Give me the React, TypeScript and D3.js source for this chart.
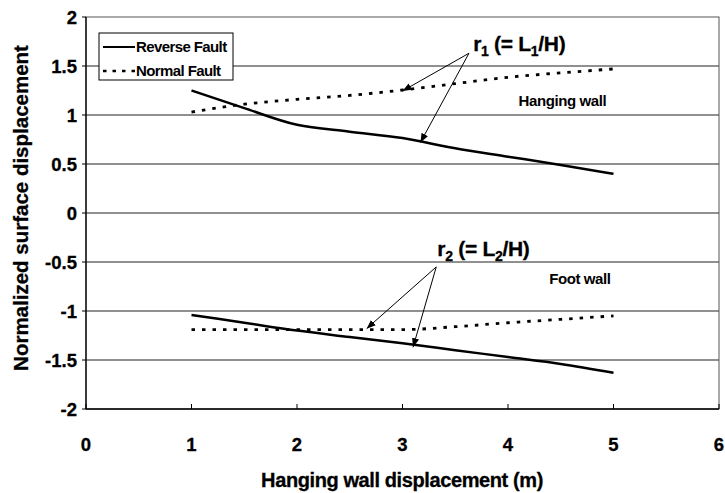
import React from "react";
import * as d3 from "d3";

const xValues = [1, 1.5, 2, 2.5, 3, 3.5, 4, 4.5, 5];
const reverseHanging = [1.25, 1.07, 0.9, 0.83, 0.765, 0.66, 0.575, 0.49, 0.4];
const normalHanging = [1.03, 1.11, 1.16, 1.2, 1.255, 1.32, 1.385, 1.43, 1.47];
const reverseFoot = [-1.04, -1.12, -1.2, -1.265, -1.33, -1.4, -1.47, -1.54, -1.63];
const normalFoot = [-1.19, -1.19, -1.19, -1.19, -1.19, -1.16, -1.12, -1.085, -1.05];

const xTicks = [0, 1, 2, 3, 4, 5, 6];
const yTicks = [2, 1.5, 1, 0.5, 0, -0.5, -1, -1.5, -2];

const legendLabels = ["Reverse Fault", "Normal Fault"];

// annotation anchors in data coordinates
const r1Origin = [3.63, 1.63];
const r1Tips = [[3.0, 1.245], [3.17, 0.72]];
const r2Origin = [3.32, -0.55];
const r2Tips = [[2.66, -1.18], [3.1, -1.37]];

const W = 725, H = 493;
const M = { left: 86, right: 6, top: 17, bottom: 84 };
const FONT = "'Liberation Sans', Arial, sans-serif";

export default function App() {
  const x = d3.scaleLinear().domain([0, 6]).range([M.left, W - M.right]);
  const y = d3.scaleLinear().domain([-2, 2]).range([H - M.bottom, M.top]);
  const line = d3
    .line<number>()
    .x((_, i) => x(xValues[i]))
    .y((d) => y(d))
    .curve(d3.curveMonotoneX);

  const x0 = x(0), x1 = x(6), yT = y(2), yB = y(-2);

  const arrow = (o: number[], t: number[], k: string) => (
    <line key={k} x1={x(o[0])} y1={y(o[1])} x2={x(t[0])} y2={y(t[1])}
      stroke="#000" strokeWidth={1} markerEnd="url(#ah)" />
  );

  return (
    <svg width={W} height={H} style={{ position: "absolute", left: 0, top: 0, background: "#fff" }}
      fontFamily={FONT}>
      <defs>
        <marker id="ah" viewBox="0 0 10 10" refX="10" refY="5" markerWidth="9" markerHeight="9"
          markerUnits="userSpaceOnUse" orient="auto">
          <path d="M0,1 L10,5 L0,9 z" fill="#000" />
        </marker>
      </defs>
      <rect x={0} y={0} width={W} height={H} fill="#fff" />
      {/* gridlines */}
      {yTicks.filter((v) => v !== 2 && v !== -2).map((v) => (
        <line key={"g" + v} x1={x0} x2={x1} y1={y(v)} y2={y(v)} stroke="#222" strokeWidth={1.2} />
      ))}
      {/* plot border */}
      <rect x={x0} y={yT} width={x1 - x0} height={yB - yT} fill="none" stroke="#555" strokeWidth={1} />
      <line x1={x0} x2={x0} y1={yT} y2={yB} stroke="#000" strokeWidth={1.3} />
      <line x1={x0} x2={x1} y1={yB} y2={yB} stroke="#000" strokeWidth={1.3} />
      {/* y ticks */}
      {yTicks.map((v) => (
        <g key={"yt" + v}>
          <line x1={x0 - 4} x2={x0} y1={y(v)} y2={y(v)} stroke="#000" strokeWidth={1} />
          <text x={x0 - 9} y={y(v)} dy="0.36em" textAnchor="end" fontSize={18.5} fontWeight="bold"
            stroke="#000" strokeWidth={0.3}>{v}</text>
        </g>
      ))}
      {/* x ticks */}
      {xTicks.map((v) => (
        <g key={"xt" + v}>
          <line x1={x(v)} x2={x(v)} y1={yB} y2={yB - 5} stroke="#000" strokeWidth={1} />
          <text x={x(v)} y={yB + 35} dy="0.36em" textAnchor="middle" fontSize={18.5} fontWeight="bold"
            stroke="#000" strokeWidth={0.3}>{v}</text>
        </g>
      ))}
      {/* axis titles */}
      <text x={402} y={480} dy="0.36em" textAnchor="middle" fontSize={20} fontWeight="bold"
        letterSpacing={-0.4} stroke="#000" strokeWidth={0.3}>Hanging wall displacement (m)</text>
      <text transform={`translate(21,${(yT + yB) / 2 - 5}) rotate(-90)`} dy="0.36em" textAnchor="middle"
        fontSize={20.5} fontWeight="bold" stroke="#000" strokeWidth={0.3}>Normalized surface displacement</text>
      {/* series */}
      <path d={line(reverseHanging) || ""} fill="none" stroke="#000" strokeWidth={2.5} />
      <path d={line(reverseFoot) || ""} fill="none" stroke="#000" strokeWidth={2.5} />
      <path d={line(normalHanging) || ""} fill="none" stroke="#000" strokeWidth={2.8} strokeDasharray="3.5,7" />
      <path d={line(normalFoot) || ""} fill="none" stroke="#000" strokeWidth={2.8} strokeDasharray="3.5,7" />
      {/* annotations */}
      {r1Tips.map((t, i) => arrow(r1Origin, t, "a1" + i))}
      {r2Tips.map((t, i) => arrow(r2Origin, t, "a2" + i))}
      <text x={x(3.67)} y={y(1.73)} dy="0.36em" fontSize={21} fontWeight="bold" letterSpacing={-0.3}
        stroke="#000" strokeWidth={0.3}>
        r<tspan fontSize={14} dy="5">1</tspan><tspan dy="-5"> (= L</tspan><tspan fontSize={14} dy="5">1</tspan><tspan dy="-5">/H)</tspan>
      </text>
      <text x={x(3.33)} y={y(-0.36)} dy="0.36em" fontSize={21} fontWeight="bold" letterSpacing={-0.3}
        stroke="#000" strokeWidth={0.3}>
        r<tspan fontSize={14} dy="5">2</tspan><tspan dy="-5"> (= L</tspan><tspan fontSize={14} dy="5">2</tspan><tspan dy="-5">/H)</tspan>
      </text>
      <text x={x(4.1)} y={y(1.15)} dy="0.36em" fontSize={15} fontWeight="bold" letterSpacing={-0.4}>Hanging wall</text>
      <text x={x(4.39)} y={y(-0.67)} dy="0.36em" fontSize={15} fontWeight="bold" letterSpacing={-0.4}>Foot wall</text>
      {/* legend */}
      <g>
        <rect x={99} y={33} width={134} height={47} fill="#fff" stroke="#000" strokeWidth={1} />
        <line x1={103} x2={135} y1={47} y2={47} stroke="#000" strokeWidth={2} />
        <line x1={103} x2={135} y1={71} y2={71} stroke="#000" strokeWidth={2.5} strokeDasharray="3.5,6" />
        <text x={136} y={47} dy="0.36em" fontSize={15} fontWeight="bold" letterSpacing={-0.6}>{legendLabels[0]}</text>
        <text x={136} y={71} dy="0.36em" fontSize={15} fontWeight="bold" letterSpacing={-0.6}>{legendLabels[1]}</text>
      </g>
    </svg>
  );
}
